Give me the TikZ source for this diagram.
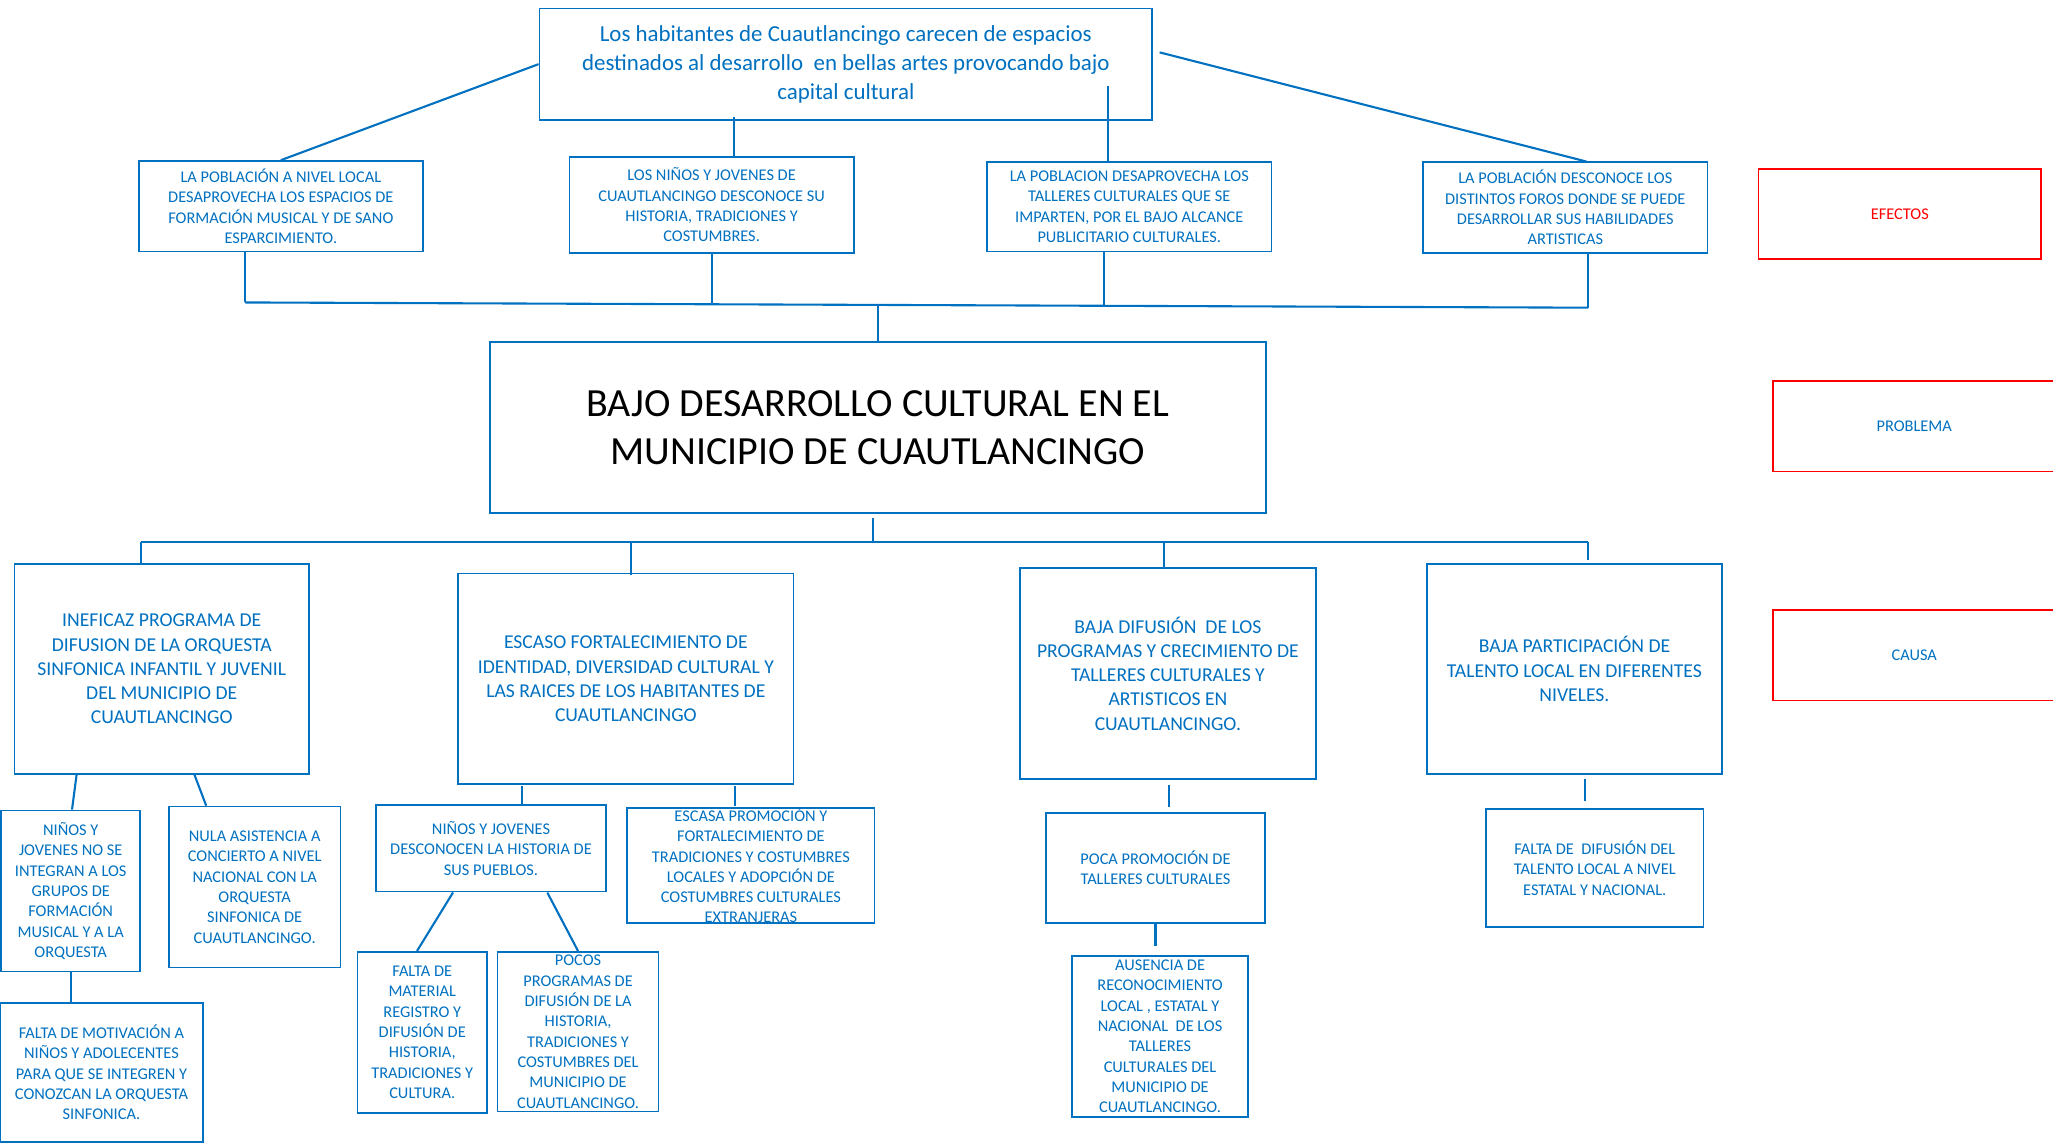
\documentclass[tikz,border=0pt]{standalone}
\usepackage{fontspec}
\setmainfont{Carlito}
\usetikzlibrary{calc,positioning}

\definecolor{cblue}{RGB}{0,112,192}
\definecolor{cred}{RGB}{255,0,0}

\newcommand\fsmall{\fontsize{12.5}{15.5}\selectfont}
\newcommand\fmid{\fontsize{15}{18.5}\selectfont}
\newcommand\ftop{\fontsize{17.5}{22}\selectfont}
\newcommand\fbig{\fontsize{30.5}{36.5}\selectfont}

\begin{document}
\begin{tikzpicture}[x=1pt,y=-1pt,
    bx/.style={draw=cblue,line width=1.3pt,text=cblue,align=center,inner sep=0pt},
    redbx/.style={draw=cred,line width=1.3pt,align=center,inner sep=0pt,
        minimum width=216,minimum height=69,font=\fontsize{12.5}{14}\selectfont},
    conn/.style={draw=cblue,line width=1.6pt}]

    \useasboundingbox (0,0) rectangle (1568,874);

    % top statement
    \node[bx,minimum width=468,minimum height=85,font=\ftop] (top) at (646,49)
        {Los habitantes de Cuautlancingo carecen de espacios\\destinados al desarrollo~ en bellas artes provocando bajo\\capital cultural};

    % effects
    \node[bx,minimum width=217,minimum height=69,font=\fsmall] (e1) at (214.5,157.5)
        {LA POBLACIÓN A NIVEL LOCAL\\DESAPROVECHA LOS ESPACIOS DE\\FORMACIÓN MUSICAL Y DE SANO\\ESPARCIMIENTO.};
    \node[bx,minimum width=217,minimum height=73,font=\fsmall] (e2) at (543.5,156.5)
        {LOS NIÑOS Y JOVENES DE\\CUAUTLANCINGO DESCONOCE SU\\HISTORIA, TRADICIONES Y\\COSTUMBRES.};
    \node[bx,minimum width=217,minimum height=68,font=\fsmall] (e3) at (862.5,158)
        {LA POBLACION DESAPROVECHA LOS\\TALLERES CULTURALES QUE SE\\IMPARTEN, POR EL BAJO ALCANCE\\PUBLICITARIO CULTURALES.};
    \node[bx,minimum width=217,minimum height=69,font=\fsmall] (e4) at (1195.5,158.5)
        {LA POBLACIÓN DESCONOCE LOS\\DISTINTOS FOROS DONDE SE PUEDE\\DESARROLLAR SUS HABILIDADES\\ARTISTICAS};

    % problem
    \node[bx,minimum width=593,minimum height=131,font=\fbig,text=black] (main) at (670.5,326.5)
        {BAJO DESARROLLO CULTURAL EN EL\\MUNICIPIO DE CUAUTLANCINGO};

    % causes
    \node[bx,minimum width=225,minimum height=160,font=\fmid] (c1) at (123.5,511)
        {INEFICAZ PROGRAMA DE\\DIFUSION DE LA ORQUESTA\\SINFONICA INFANTIL Y JUVENIL\\DEL MUNICIPIO DE\\CUAUTLANCINGO};
    \node[bx,minimum width=256,minimum height=161,font=\fmid] (c2) at (478,518.5)
        {ESCASO FORTALECIMIENTO DE\\IDENTIDAD, DIVERSIDAD CULTURAL Y\\LAS RAICES DE LOS HABITANTES DE\\CUAUTLANCINGO};
    \node[bx,minimum width=226,minimum height=161,font=\fmid] (c3) at (892,514.5)
        {BAJA DIFUSIÓN~ DE LOS\\PROGRAMAS Y CRECIMIENTO DE\\TALLERES CULTURALES Y\\ARTISTICOS EN\\CUAUTLANCINGO.};
    \node[bx,minimum width=225,minimum height=160,font=\fmid] (c4) at (1202.5,511)
        {BAJA PARTICIPACIÓN DE\\TALENTO LOCAL EN DIFERENTES\\NIVELES.};

    % sub causes
    \node[bx,minimum width=106,minimum height=123,font=\fsmall] (s1a) at (54,680.5)
        {NIÑOS Y\\JOVENES NO SE\\INTEGRAN A LOS\\GRUPOS DE\\FORMACIÓN\\MUSICAL Y A LA\\ORQUESTA};
    \node[bx,minimum width=131,minimum height=123,font=\fsmall] (s1b) at (194.5,677.5)
        {NULA ASISTENCIA A\\CONCIERTO A NIVEL\\NACIONAL CON LA\\ORQUESTA\\SINFONICA DE\\CUAUTLANCINGO.};
    \node[bx,minimum width=155,minimum height=106,font=\fsmall] (s1c) at (77.5,819)
        {FALTA DE MOTIVACIÓN A\\NIÑOS Y ADOLECENTES\\PARA QUE SE INTEGREN Y\\CONOZCAN LA ORQUESTA\\SINFONICA.};
    \node[bx,minimum width=176,minimum height=66,font=\fsmall] (s2a) at (375,648)
        {NIÑOS Y JOVENES\\DESCONOCEN LA HISTORIA DE\\SUS PUEBLOS.};
    \node[bx,minimum width=189,minimum height=88,font=\fsmall] (s2b) at (573.5,661)
        {ESCASA PROMOCIÓN Y\\FORTALECIMIENTO DE\\TRADICIONES Y COSTUMBRES\\LOCALES Y ADOPCIÓN DE\\COSTUMBRES CULTURALES\\EXTRANJERAS};
    \node[bx,minimum width=99,minimum height=123,font=\fsmall] (s2c) at (322.5,788.5)
        {FALTA DE\\MATERIAL\\REGISTRO Y\\DIFUSIÓN DE\\HISTORIA,\\TRADICIONES Y\\CULTURA.};
    \node[bx,minimum width=123,minimum height=122,font=\fsmall] (s2d) at (441.5,788)
        {POCOS\\PROGRAMAS DE\\DIFUSIÓN DE LA\\HISTORIA,\\TRADICIONES Y\\COSTUMBRES DEL\\MUNICIPIO DE\\CUAUTLANCINGO.};
    \node[bx,minimum width=167,minimum height=84,font=\fsmall] (s3a) at (882.5,663)
        {POCA PROMOCIÓN DE\\TALLERES CULTURALES};
    \node[bx,minimum width=134,minimum height=123,font=\fsmall] (s3b) at (886,791.5)
        {AUSENCIA DE\\RECONOCIMIENTO\\LOCAL , ESTATAL Y\\NACIONAL~ DE LOS\\TALLERES\\CULTURALES DEL\\MUNICIPIO DE\\CUAUTLANCINGO.};
    \node[bx,minimum width=166,minimum height=90,font=\fsmall] (s4a) at (1218,663)
        {FALTA DE~ DIFUSIÓN DEL\\TALENTO LOCAL A NIVEL\\ESTATAL Y NACIONAL.};

    % legend
    \node[redbx,text=cred] (lef) at (1451,163.5) {EFECTOS};
    \node[redbx,text=cblue] (lpr) at (1462,325.5) {PROBLEMA};
    \node[redbx,text=cblue] (lca) at (1462,500.5) {CAUSA};

    % top to effects
    \draw[conn] (top.west) -- (e1.north);
    \draw[conn] ($(top.east)+(5,-9)$) -- ($(e4.north)+(16,0)$);
    \draw[conn] ($(e2.north)+(17,0)$) -- ++(0,-30);
    \draw[conn] ($(e3.north)+(-16,0)$) -- ++(0,-58);

    % effects to problem
    \coordinate (bl) at (187,231);
    \coordinate (br) at (1213,235);
    \draw[conn] (bl) -- (br);
    \draw[conn] (bl) -- (bl |- e1.south);
    \draw[conn] (e2.south) -- ++(0,38);
    \draw[conn] ($(e3.south)+(-19,0)$) -- ++(0,40);
    \draw[conn] (br) -- (br |- e4.south);
    \draw[conn] (main.north) -- ++(0,-28);

    % problem to causes
    \coordinate (cl) at (108,414);
    \coordinate (cr) at (1213,414);
    \draw[conn] (cl) -- (cr);
    \draw[conn] ($(main.south)+(-4,3)$) -- ++(0,19);
    \draw[conn] (cl) -- (cl |- c1.north);
    \draw[conn] ($(c2.north)+(4,2)$) -- ++(0,-26);
    \draw[conn] ($(c3.north)+(-3,0)$) -- ++(0,-20);
    \draw[conn] (cr) -- ++(0,14);

    % causes to sub causes
    \draw[conn] ($(c1.south)+(-65,0)$) -- ($(s1a.north)+(1,0)$);
    \draw[conn] ($(c1.south)+(25,0)$) -- ($(s1b.north)+(-37,0)$);
    \draw[conn] (s1a.south) -- (s1a.south |- s1c.north);
    \draw[conn] ($(s2a.north)+(24,0)$) -- ++(0,-14);
    \draw[conn] ($(s2b.north)+(-12,-1)$) -- ++(0,-15);
    \draw[conn] ($(s2a.south)+(-29,0)$) -- ($(s2c.north)+(-4,0)$);
    \draw[conn] ($(s2a.south)+(43,0)$) -- (s2d.north);
    \draw[conn] ($(s3a.north)+(10,-4)$) -- ++(0,-17);
    \draw[conn] (s3a.south) -- ++(0,17);
    \draw[conn] ($(c4.south)+(8,3)$) -- ++(0,17);
\end{tikzpicture}
\end{document}
